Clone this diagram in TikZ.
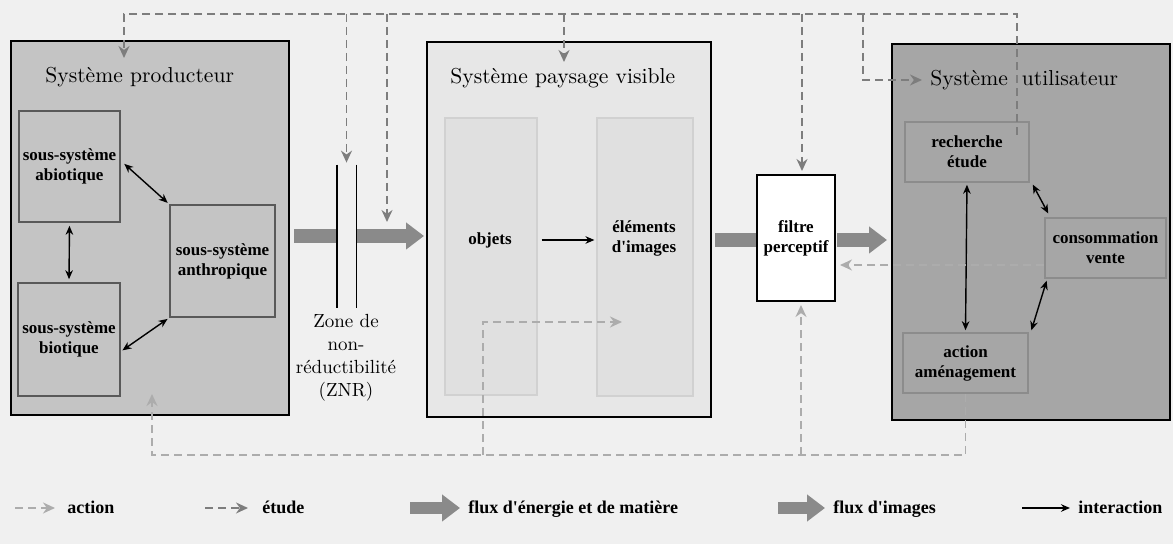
\documentclass[tikz,border=0pt]{standalone}
\usepackage{fontspec}
\newfontfamily\boldserif{Liberation Serif}
\usetikzlibrary{arrows.meta,fit,calc}
\definecolor{bgc}{RGB}{240,240,240}
\definecolor{prodc}{RGB}{196,196,196}
\definecolor{payc}{RGB}{231,231,231}
\definecolor{innerc}{RGB}{224,224,224}
\definecolor{utilc}{RGB}{166,166,166}
\definecolor{fluxc}{RGB}{138,138,138}
\definecolor{etudec}{RGB}{125,125,125}
\definecolor{actc}{RGB}{172,172,172}
\begin{document}
\begin{tikzpicture}[x=0.5pt,y=-0.5pt,
  sysbox/.style={draw=black, line width=1pt, inner sep=0pt},
  subbox/.style={draw=black!65, line width=0.8pt, inner sep=0pt},
  inbox/.style={draw=black!18, line width=0.6pt, inner sep=0pt, fill=innerc},
  subtext/.style={align=center, inner sep=0pt, font=\boldserif\fontsize{8.5}{10}\selectfont\bfseries},
  systitle/.style={anchor=base west, inner sep=0pt, font=\fontsize{10.8}{13}\selectfont},
  flux/.style={draw=fluxc, line width=7pt, -{Triangle[length=9pt,width=13pt]}},
  fluxbar/.style={draw=fluxc, line width=7pt},
  etude/.style={draw=etudec, line width=0.8pt, dash pattern=on 4pt off 2.5pt,
    -{Stealth[length=6pt,width=5.5pt]}},
  action/.style={draw=actc, line width=0.8pt, dash pattern=on 4pt off 2.5pt,
    -{Stealth[length=6pt,width=5.5pt]}},
  inter/.style={draw=black, line width=0.7pt, {Stealth[length=4.5pt,width=3.8pt]}-{Stealth[length=4.5pt,width=3.8pt]}},
  interone/.style={draw=black, line width=0.7pt, -{Stealth[length=4.5pt,width=3.8pt]}},
  legtext/.style={anchor=base west, inner sep=0pt, font=\boldserif\fontsize{9}{11}\selectfont\bfseries},
  znrline/.style={draw=black, line width=0.9pt}
]
\fill[bgc] (0,0) rectangle (1173,544);
\useasboundingbox (0,0) rectangle (1173,544);

% ---------- Système producteur ----------
\node[sysbox, fill=prodc, fit={(11,41)(289,415)}] (prod) {};
\node[systitle] (prodT) at (45,83) {Système producteur};
\node[subbox, fill=prodc, fit={(19,111)(120,222)}] (abio) {};
\node[subbox, fill=prodc, fit={(170,205)(275,317)}] (anth) {};
\node[subbox, fill=prodc, fit={(18,283)(120,396)}] (biot) {};
\node[subtext] (abioT) at (abio) {sous-système\\abiotique};
\node[subtext] (anthT) at (anth) {sous-système\\anthropique};
\node[subtext] (biotT) at (biot) {sous-système\\biotique};
\draw[inter, shorten <=1pt, shorten >=1pt] ($(abio.east)+(2,-4)$) -- (anth.north west);
\draw[inter, shorten <=1.5pt, shorten >=1.5pt] (abio.south) -- (biot.north);
\draw[inter, shorten <=1pt, shorten >=1pt] ($(biot.east)+(0,12)$) -- (anth.south west);

% ---------- Système paysage visible ----------
\node[sysbox, fill=payc, fit={(427,42)(711,417)}] (pay) {};
\node[systitle] (payT) at (450,84) {Système paysage visible};
\node[inbox, fit={(445,118)(537,395)}] (obj) {};
\node[inbox, fit={(597,118)(693,396)}] (elm) {};
\node[subtext] (objT) at (490,240) {objets};
\node[subtext] (elmT) at (644,238) {éléments\\d'images};
\draw[interone, shorten <=2pt, shorten >=1pt] (obj.east |- objT) -- (elm.west |- objT);

% ---------- ZNR ----------
\coordinate (fy1) at (0,236);
\coordinate (fy2) at (0,240);
\node[inner sep=0pt, fit={(337,165)(356,308)}] (znr) {};
\draw[flux] ($(prod.east |- fy1)+(4,0)$) -- ($(pay.west |- fy1)+(-2,0)$);
\fill[bgc] ($(znr.west |- fy1)+(0,-9)$) rectangle ($(znr.east |- fy1)+(0,9)$);
\draw[znrline] (znr.north west) -- (znr.south west);
\draw[znrline] (znr.north east) -- (znr.south east);
\node[anchor=north, align=center, inner sep=0pt, font=\fontsize{9.5}{11.5}\selectfont] (znrT) at (346,314)
  {Zone de\\non-\\réductibilité\\(ZNR)};

% ---------- filtre ----------
\node[sysbox, fill=white, fit={(757,175)(835,301)}] (filt) {};
\node[subtext] (filtT) at (filt) {filtre\\perceptif};

% ---------- Système utilisateur ----------
\node[sysbox, fill=utilc, fit={(892,44)(1170,420)}] (util) {};
\node[systitle] (utilT) at (930,86) {Système\hspace{7pt}utilisateur};
\node[subbox, draw=black!45, fill=utilc, fit={(905,122)(1029,182)}] (rech) {};
\node[subbox, draw=black!45, fill=utilc, fit={(1045,218)(1166,278)}] (cons) {};
\node[subbox, draw=black!45, fill=utilc, fit={(903,333)(1028,393)}] (act) {};
\node[subtext] (rechT) at (rech) {recherche\\étude};
\node[subtext] (consT) at (cons) {consommation\\vente};
\node[subtext] (actT) at (act) {action\\aménagement};
\draw[inter, shorten <=1pt, shorten >=1pt] (rech.south) -- (act.north);
\draw[inter, shorten <=1pt, shorten >=1pt] ($(rech.south east)+(2,0)$) -- ($(cons.north west)+(5,-2)$);
\draw[inter, shorten <=1pt, shorten >=1pt] ($(cons.south west)+(3,0)$) -- ($(act.north east)+(2,0)$);

% ---------- flux ----------
\draw[fluxbar] ($(pay.east |- fy2)+(3,0)$) -- (filt.west |- fy2);
\draw[flux] ($(filt.east |- fy2)+(1,0)$) -- ($(util.west |- fy2)+(-4,0)$);

% ---------- étude (dashed, dark) ----------
\coordinate (ey) at (0,14);
\coordinate (e0) at (1017,135);
\coordinate (eP) at (124,14);
\coordinate (eProd) at (124,58);
\coordinate (eZ2) at (387,222);
\coordinate (ePay) at (564,62);
\coordinate (eF) at (802,0);
\coordinate (eUx) at (863,0);
\coordinate (eU) at (922,80);
\draw[etude] (e0) |- (eP) -- (eProd);
\draw[etude, shorten >=1pt] (znr.north |- ey) -- (znr.north);
\draw[etude] (eZ2 |- ey) -- (eZ2);
\draw[etude] (ePay |- ey) -- (ePay);
\draw[etude, shorten >=1.5pt] (eF |- ey) -- (filt.north -| eF);
\draw[etude] (eUx |- ey) |- (eU);

% ---------- action (dashed, light) ----------
\coordinate (ay) at (0,455);
\coordinate (aP) at (152,455);
\coordinate (aProd) at (152,394);
\coordinate (aOx) at (483,0);
\coordinate (aObj) at (622,322);
\coordinate (aFx) at (801,0);
\coordinate (aC) at (0,265);
\draw[action] (act.south) |- (aP) -- (aProd);
\draw[action] (aOx |- ay) |- (aObj);
\draw[action, shorten >=1.5pt] (aFx |- ay) -- (filt.south -| aFx);
\draw[action, shorten >=2pt] (cons.west |- aC) -- (filt.east |- aC);

% ---------- legend ----------
\coordinate (L1a) at (15,508);
\coordinate (L2a) at (205,508);
\coordinate (L3a) at (410,508);
\coordinate (L4a) at (778,508);
\coordinate (L5a) at (1022,508);
\node[legtext] (L1) at (67,514) {action};
\node[legtext] (L2) at (262,514) {étude};
\node[legtext] (L3) at (468,514) {flux d'énergie et de matière};
\node[legtext] (L4) at (833,514) {flux d'images};
\node[legtext] (L5) at (1078,514) {interaction};
\draw[action, shorten >=6pt] (L1a) -- (L1.west |- L1a);
\draw[etude, shorten >=7pt] (L2a) -- (L2.west |- L2a);
\draw[flux, line width=6pt, shorten >=4pt] (L3a) -- (L3.west |- L3a);
\draw[flux, line width=6pt, shorten >=4pt] (L4a) -- (L4.west |- L4a);
\draw[interone, shorten >=4pt] (L5a) -- (L5.west |- L5a);
\end{tikzpicture}
\end{document}
